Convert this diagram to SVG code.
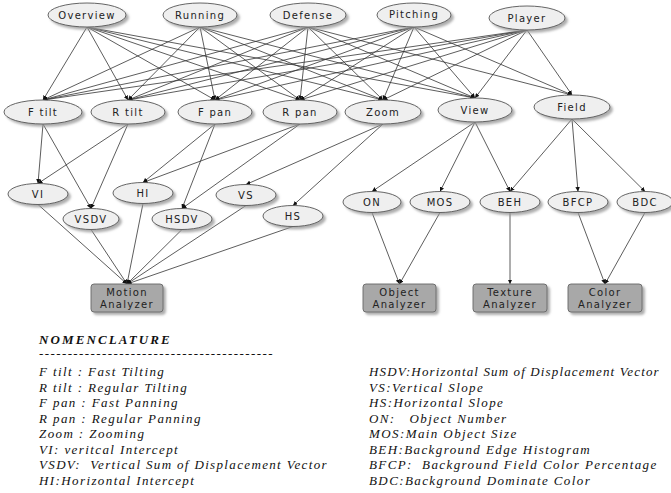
<svg xmlns="http://www.w3.org/2000/svg" width="671" height="493" viewBox="0 0 671 493">
<style>
.n ellipse{fill:#efefef;stroke:#555;stroke-width:0.9;filter:url(#sh)}
.a rect{fill:#a8a8a8;stroke:#666;stroke-width:0.9;filter:url(#sh)}
.n text,.a text{font-family:"DejaVu Sans",sans-serif;font-size:10px;letter-spacing:1.3px;fill:#222;text-anchor:middle}
#edges line{stroke:#333;stroke-width:0.8;marker-end:url(#ah)}
.nom{font-family:"Liberation Serif",serif;font-style:italic;font-size:13px;letter-spacing:1.4px;fill:#111}
.hd{font-family:"Liberation Serif",serif;font-style:italic;font-weight:bold;font-size:13px;letter-spacing:2.1px;fill:#111}
</style>
<defs>
<filter id="sh" x="-20%" y="-30%" width="150%" height="180%">
<feDropShadow dx="2.5" dy="2.5" stdDeviation="1.2" flood-color="#999" flood-opacity="0.8"/>
</filter>
<marker id="ah" viewBox="0 0 6 6" refX="6" refY="3" markerWidth="4.5" markerHeight="4.5" markerUnits="userSpaceOnUse" orient="auto">
<path d="M0,0 L6,3 L0,6 z" fill="#111"/>
</marker>
</defs>
<rect width="671" height="493" fill="#fff"/>
<g id="edges">
<line x1="87" y1="27" x2="43" y2="100"/>
<line x1="87" y1="27" x2="128" y2="100"/>
<line x1="87" y1="27" x2="215" y2="100"/>
<line x1="87" y1="27" x2="300" y2="100"/>
<line x1="87" y1="27" x2="383" y2="100"/>
<line x1="87" y1="27" x2="475" y2="98"/>
<line x1="200" y1="27" x2="43" y2="100"/>
<line x1="200" y1="27" x2="128" y2="100"/>
<line x1="200" y1="27" x2="215" y2="100"/>
<line x1="200" y1="27" x2="300" y2="100"/>
<line x1="200" y1="27" x2="383" y2="100"/>
<line x1="200" y1="27" x2="475" y2="98"/>
<line x1="308" y1="27" x2="43" y2="100"/>
<line x1="308" y1="27" x2="128" y2="100"/>
<line x1="308" y1="27" x2="215" y2="100"/>
<line x1="308" y1="27" x2="300" y2="100"/>
<line x1="308" y1="27" x2="383" y2="100"/>
<line x1="308" y1="27" x2="475" y2="98"/>
<line x1="308" y1="27" x2="572" y2="95"/>
<line x1="414" y1="27" x2="43" y2="100"/>
<line x1="414" y1="27" x2="128" y2="100"/>
<line x1="414" y1="27" x2="215" y2="100"/>
<line x1="414" y1="27" x2="300" y2="100"/>
<line x1="414" y1="27" x2="383" y2="100"/>
<line x1="414" y1="27" x2="475" y2="98"/>
<line x1="414" y1="27" x2="572" y2="95"/>
<line x1="527" y1="30" x2="43" y2="100"/>
<line x1="527" y1="30" x2="128" y2="100"/>
<line x1="527" y1="30" x2="215" y2="100"/>
<line x1="527" y1="30" x2="300" y2="100"/>
<line x1="527" y1="30" x2="383" y2="100"/>
<line x1="527" y1="30" x2="475" y2="98"/>
<line x1="527" y1="30" x2="572" y2="95"/>
<line x1="43" y1="124" x2="38" y2="183.5"/>
<line x1="43" y1="124" x2="91" y2="208.5"/>
<line x1="128" y1="124" x2="38" y2="183.5"/>
<line x1="128" y1="124" x2="91" y2="208.5"/>
<line x1="215" y1="124" x2="143" y2="182.5"/>
<line x1="215" y1="124" x2="182" y2="208.5"/>
<line x1="300" y1="124" x2="143" y2="182.5"/>
<line x1="300" y1="124" x2="182" y2="208.5"/>
<line x1="383" y1="124" x2="246" y2="184.5"/>
<line x1="383" y1="124" x2="293" y2="205.5"/>
<line x1="475" y1="122" x2="372" y2="191.5"/>
<line x1="475" y1="122" x2="440" y2="191.5"/>
<line x1="475" y1="122" x2="510" y2="191.5"/>
<line x1="572" y1="119" x2="510" y2="191.5"/>
<line x1="572" y1="119" x2="578" y2="191.5"/>
<line x1="572" y1="119" x2="645" y2="191.5"/>
<line x1="38" y1="204.5" x2="127" y2="284"/>
<line x1="91" y1="229.5" x2="127" y2="284"/>
<line x1="143" y1="203.5" x2="127" y2="284"/>
<line x1="182" y1="229.5" x2="127" y2="284"/>
<line x1="246" y1="205.5" x2="127" y2="284"/>
<line x1="293" y1="226.5" x2="127" y2="284"/>
<line x1="372" y1="212.5" x2="399.5" y2="284"/>
<line x1="440" y1="212.5" x2="399.5" y2="284"/>
<line x1="510" y1="212.5" x2="510" y2="284"/>
<line x1="578" y1="212.5" x2="605" y2="284"/>
<line x1="645" y1="212.5" x2="605" y2="284"/>
</g>
<g id="overview" class="n"><ellipse cx="87" cy="15" rx="39" ry="12"/><text x="87" y="18.5">Overview</text></g>
<g id="running" class="n"><ellipse cx="200" cy="15" rx="37" ry="12"/><text x="200" y="18.5">Running</text></g>
<g id="defense" class="n"><ellipse cx="308" cy="15" rx="38" ry="12"/><text x="308" y="18.5">Defense</text></g>
<g id="pitching" class="n"><ellipse cx="414" cy="15" rx="37" ry="12"/><text x="414" y="18">Pitching</text></g>
<g id="player" class="n"><ellipse cx="527" cy="18" rx="38" ry="12"/><text x="527" y="21.5">Player</text></g>
<g id="ftilt" class="n"><ellipse cx="43" cy="112" rx="39" ry="12"/><text x="43" y="115.5">F tilt</text></g>
<g id="rtilt" class="n"><ellipse cx="128" cy="112" rx="37" ry="12"/><text x="128" y="115.5">R tilt</text></g>
<g id="fpan" class="n"><ellipse cx="215" cy="112" rx="37" ry="12"/><text x="215" y="115.5">F pan</text></g>
<g id="rpan" class="n"><ellipse cx="300" cy="112" rx="37" ry="12"/><text x="300" y="115.5">R pan</text></g>
<g id="zoom" class="n"><ellipse cx="383" cy="112" rx="38" ry="12"/><text x="383" y="115.5">Zoom</text></g>
<g id="view" class="n"><ellipse cx="475" cy="110" rx="37" ry="12"/><text x="475" y="113.5">View</text></g>
<g id="field" class="n"><ellipse cx="572" cy="107" rx="38" ry="12"/><text x="572" y="110.5">Field</text></g>
<g id="vi" class="n"><ellipse cx="38" cy="194" rx="30" ry="10.5"/><text x="38" y="197.5">VI</text></g>
<g id="vsdv" class="n"><ellipse cx="91" cy="219" rx="28" ry="10.5"/><text x="91" y="222.5">VSDV</text></g>
<g id="hi" class="n"><ellipse cx="143" cy="193" rx="30" ry="10.5"/><text x="143" y="196.5">HI</text></g>
<g id="hsdv" class="n"><ellipse cx="182" cy="219" rx="30" ry="10.5"/><text x="182" y="222.5">HSDV</text></g>
<g id="vs" class="n"><ellipse cx="246" cy="195" rx="30" ry="10.5"/><text x="246" y="198.5">VS</text></g>
<g id="hs" class="n"><ellipse cx="293" cy="216" rx="30" ry="10.5"/><text x="293" y="219.5">HS</text></g>
<g id="on" class="n"><ellipse cx="372" cy="202" rx="29" ry="10.5"/><text x="372" y="205.5">ON</text></g>
<g id="mos" class="n"><ellipse cx="440" cy="202" rx="30" ry="10.5"/><text x="440" y="205.5">MOS</text></g>
<g id="beh" class="n"><ellipse cx="510" cy="202" rx="30" ry="10.5"/><text x="510" y="205.5">BEH</text></g>
<g id="bfcp" class="n"><ellipse cx="578" cy="202" rx="30" ry="10.5"/><text x="578" y="205.5">BFCP</text></g>
<g id="bdc" class="n"><ellipse cx="645" cy="202" rx="28" ry="10.5"/><text x="645" y="205.5">BDC</text></g>
<g id="motion" class="a"><rect x="91" y="284" width="72" height="28" rx="3"/><text x="127" y="296">Motion</text><text x="127" y="307.5">Analyzer</text></g>
<g id="object" class="a"><rect x="363" y="284" width="73" height="28" rx="3"/><text x="399.5" y="296">Object</text><text x="399.5" y="307.5">Analyzer</text></g>
<g id="texture" class="a"><rect x="473" y="284" width="74" height="28" rx="3"/><text x="510" y="296">Texture</text><text x="510" y="307.5">Analyzer</text></g>
<g id="color" class="a"><rect x="568" y="284" width="74" height="28" rx="3"/><text x="605" y="296">Color</text><text x="605" y="307.5">Analyzer</text></g>
<g id="nomenclature">
<text class="hd" x="39" y="344">NOMENCLATURE</text>
<text class="nom" x="39" y="358">-----------------------------------------</text>
<text class="nom" x="39" y="376">F tilt : Fast Tilting</text>
<text class="nom" x="39" y="391.5">R tilt : Regular Tilting</text>
<text class="nom" x="39" y="407">F pan : Fast Panning</text>
<text class="nom" x="39" y="422.5">R pan : Regular Panning</text>
<text class="nom" x="39" y="438">Zoom : Zooming</text>
<text class="nom" x="39" y="453.5">VI: veritcal Intercept</text>
<text class="nom" x="39" y="469" xml:space="preserve" textLength="289" lengthAdjust="spacing">VSDV:  Vertical Sum of Displacement Vector</text>
<text class="nom" x="39" y="484.5">HI:Horizontal Intercept</text>
<text class="nom" x="369" y="376" textLength="291" lengthAdjust="spacing">HSDV:Horizontal Sum of Displacement Vector</text>
<text class="nom" x="369" y="391.5">VS:Vertical Slope</text>
<text class="nom" x="369" y="407">HS:Horizontal Slope</text>
<text class="nom" x="369" y="422.5" xml:space="preserve">ON:   Object Number</text>
<text class="nom" x="369" y="438">MOS:Main Object Size</text>
<text class="nom" x="369" y="453.5">BEH:Background Edge Histogram</text>
<text class="nom" x="369" y="469" xml:space="preserve">BFCP:  Background Field Color Percentage</text>
<text class="nom" x="369" y="484.5">BDC:Background Dominate Color</text>
</g>
</svg>
